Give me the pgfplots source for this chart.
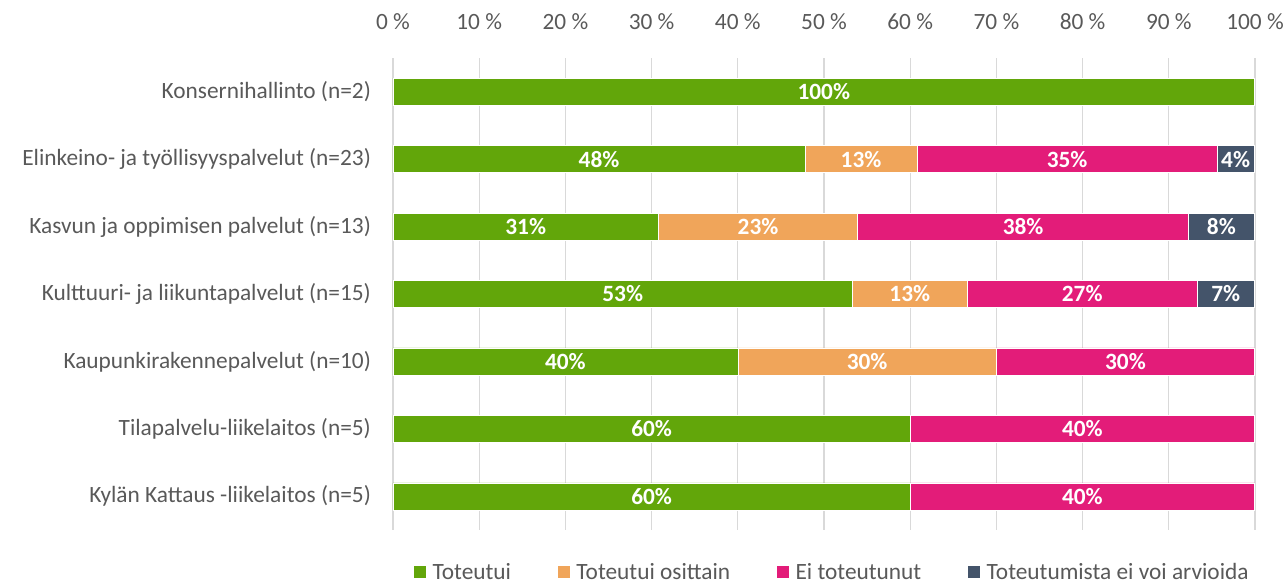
\documentclass[border=0pt]{standalone}
\usepackage{pgfplots}
\pgfplotsset{compat=1.18}
\usepackage{fontspec}
\setmainfont{Carlito}
\definecolor{cgreen}{HTML}{62A60A}
\definecolor{corange}{HTML}{F0A55A}
\definecolor{cpink}{HTML}{E31C79}
\definecolor{cdark}{HTML}{44546A}
\definecolor{ctext}{HTML}{595959}
\definecolor{cgrid}{HTML}{D9D9D9}

\begin{document}
\begin{tikzpicture}
\begin{axis}[
  scale only axis,
  width=646.5pt, height=354pt,
  xbar stacked,
  bar width=20.25pt,
  xmin=0, xmax=100,
  ymin=-0.5, ymax=6.5,
  y dir=reverse,
  axis line style={draw=none},
  major tick length=0pt,
  xtick={0,10,...,100},
  xticklabels={0 \%,10 \%,20 \%,30 \%,40 \%,50 \%,60 \%,70 \%,80 \%,90 \%,100 \%},
  xticklabel pos=top,
  xticklabel style={anchor=base, yshift=21.75pt, font=\fontsize{17.5}{20}\selectfont, text=ctext},
  ytick={0,...,6},
  yticklabels={Konsernihallinto (n=2),Elinkeino- ja työllisyyspalvelut (n=23),Kasvun ja oppimisen palvelut (n=13),Kulttuuri- ja liikuntapalvelut (n=15),Kaupunkirakennepalvelut (n=10),Tilapalvelu-liikelaitos (n=5),Kylän Kattaus -liikelaitos (n=5)},
  yticklabel style={anchor=east, xshift=-13pt, font=\fontsize{17.5}{20}\selectfont, text=ctext},
  xmajorgrids,
  major grid style={cgrid, line width=0.9pt},
  point meta=explicit symbolic,
  nodes near coords,
  every node near coord/.append style={anchor=center, text=white, font=\bfseries\fontsize{17.5}{20}\selectfont},
  legend columns=4,
  legend style={draw=none, at={(0.51,-0.089)}, anchor=center, font=\fontsize{17.5}{20}\selectfont, text=ctext,
    /tikz/every even column/.append style={column sep=33pt},
    /tikz/every odd column/.append style={column sep=3pt}},
  legend image code/.code={\fill[#1,draw=none] (0pt,-4.5pt) rectangle (9pt,4.5pt);},
]
\addplot[fill=cgreen, draw=white, line width=0.4pt] coordinates {
  (99.95,0) [100\%] (47.8,1) [48\%] (30.8,2) [31\%] (53.3,3) [53\%]
  (40,4) [40\%] (60,5) [60\%] (60,6) [60\%]};
\addlegendentry{Toteutui}
\addplot[fill=corange, draw=white, line width=0.4pt] coordinates {
  (0,0) [] (13.0,1) [13\%] (23.1,2) [23\%] (13.3,3) [13\%]
  (30,4) [30\%] (0,5) [] (0,6) []};
\addlegendentry{Toteutui osittain}
\addplot[fill=cpink, draw=white, line width=0.4pt] coordinates {
  (0,0) [] (34.8,1) [35\%] (38.4,2) [38\%] (26.7,3) [27\%]
  (29.95,4) [30\%] (39.95,5) [40\%] (39.95,6) [40\%]};
\addlegendentry{Ei toteutunut}
\addplot[fill=cdark, draw=white, line width=0.4pt] coordinates {
  (0,0) [] (4.3,1) [4\%] (7.6,2) [8\%] (6.6,3) [7\%]
  (0,4) [] (0,5) [] (0,6) []};
\addlegendentry{Toteutumista ei voi arvioida}
\end{axis}
\pgfresetboundingbox
\path (-294.75pt,-39.75pt) rectangle (670.5pt,397.5pt);
\end{tikzpicture}
\end{document}
